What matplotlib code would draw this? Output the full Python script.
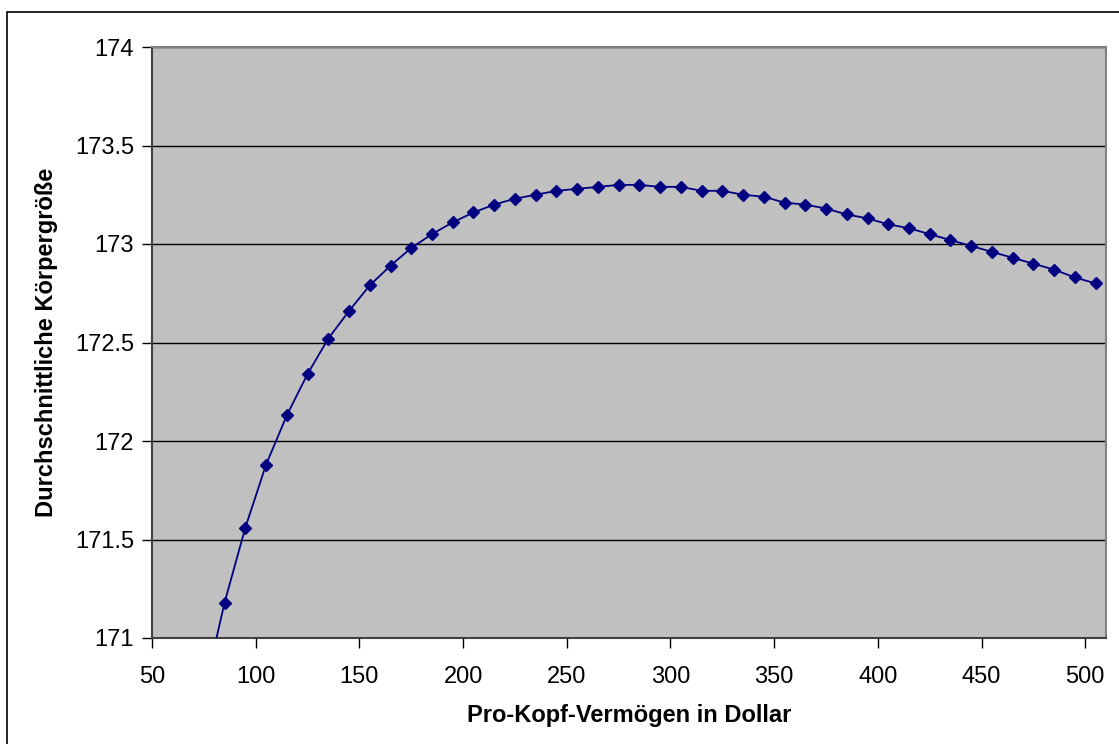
import matplotlib
matplotlib.use('Agg')
import matplotlib.pyplot as plt
from matplotlib.patches import Rectangle

plt.rcParams['font.family'] = 'Liberation Sans'

# Data
vermoegen = [75, 85, 95, 105, 115, 125, 135, 145, 155, 165, 175,
             185, 195, 205, 215, 225, 235, 245, 255, 265, 275,
             285, 295, 305, 315, 325, 335, 345, 355, 365, 375,
             385, 395, 405, 415, 425, 435, 445, 455, 465, 475,
             485, 495, 505]
groesse = [170.72, 171.18, 171.56, 171.88, 172.13, 172.34, 172.52, 172.66, 172.79, 172.89, 172.98,
           173.05, 173.11, 173.16, 173.20, 173.23, 173.25, 173.27, 173.28, 173.29, 173.30,
           173.30, 173.29, 173.29, 173.27, 173.27, 173.25, 173.24, 173.21, 173.20, 173.18,
           173.15, 173.13, 173.10, 173.08, 173.05, 173.02, 172.99, 172.96, 172.93, 172.90,
           172.87, 172.83, 172.80]

x_ticks = [50, 100, 150, 200, 250, 300, 350, 400, 450, 500]
y_ticks = [171, 171.5, 172, 172.5, 173, 173.5, 174]
y_ticklabels = ['171', '171.5', '172', '172.5', '173', '173.5', '174']

W, H = 1119, 744
fig = plt.figure(figsize=(W / 100, H / 100), dpi=100)
fig.patch.set_facecolor('white')

# outer chart border (cut at right and bottom like the original)
fig.patches.append(Rectangle((7 / W, -0.05), 1.2, 1 - 12 / H + 0.05,
                             transform=fig.transFigure, fill=False,
                             edgecolor='black', linewidth=1.2))

ax = fig.add_axes([152 / W, 1 - 638 / H, (1106 - 152) / W, (638 - 47) / H])
ax.set_facecolor('#C0C0C0')

ax.plot(vermoegen, groesse, color='#000080', linewidth=1.3,
        marker='D', markersize=6.3, markerfacecolor='#000080',
        markeredgecolor='#000080', clip_on=True, zorder=3)

ax.set_xlim(50, 510)
ax.set_ylim(171, 174)
ax.set_xticks(x_ticks)
ax.set_yticks(y_ticks)
ax.set_yticklabels(y_ticklabels)

ax.yaxis.grid(True, color='black', linewidth=1.0)
ax.set_axisbelow(True)

for side in ['top', 'right']:
    ax.spines[side].set_color('#808080')
    ax.spines[side].set_linewidth(1.5)
for side in ['left', 'bottom']:
    ax.spines[side].set_color('#404040')
    ax.spines[side].set_linewidth(1.5)

ax.tick_params(axis='both', direction='out', length=7, width=1,
               color='black', labelsize=17, pad=6)
ax.tick_params(axis='x', pad=13)

ax.set_xlabel('Pro-Kopf-Vermögen in Dollar', fontsize=17,
              fontweight='bold', labelpad=12)
ax.set_ylabel('Durchschnittliche Körpergröße', fontsize=17,
              fontweight='bold', labelpad=12)

fig.savefig('out.png', dpi=100, facecolor='white')
